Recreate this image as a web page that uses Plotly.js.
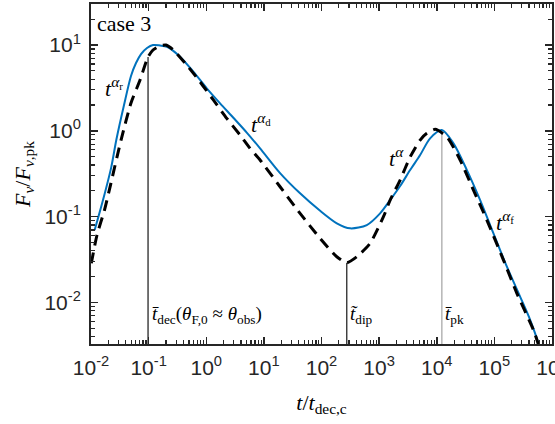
<!DOCTYPE html>
<html><head><meta charset="utf-8">
<script src="https://cdn.plot.ly/plotly-3.0.1.min.js"></script>
<style>html,body{margin:0;padding:0;background:#fff}</style>
</head><body><div id="chart" style="width:555px;height:424px"></div>
<script>
// solid blue light curve
const blueT = [0.01159, 0.01615, 0.02249, 0.02748, 0.03741, 0.04943, 0.06039, 0.07379, 0.09377, 0.1191, 0.1578, 0.2085, 0.3508, 0.5971, 1.021, 1.738, 2.953, 5.045, 8.590, 19.10, 42.47, 94.6, 184.5, 314, 611, 1040, 1552, 2317, 3451, 5152, 7674, 12270, 19500, 33340, 56620, 96380, 164800, 280500, 418800, 583600, 649400];
const blueF = [0.0698, 0.156, 0.378, 0.781, 2.00, 4.36, 6.17, 7.85, 9.23, 10.0, 9.87, 9.55, 7.31, 4.89, 3.13, 2.09, 1.42, 0.955, 0.625, 0.322, 0.187, 0.1170, 0.0836, 0.0731, 0.0798, 0.1092, 0.156, 0.2275, 0.349, 0.5224, 0.818, 1.022, 0.715, 0.349, 0.156, 0.0638, 0.0261, 0.01164, 0.00624, 0.00334, 0.00264];
// dashed black light curve
const dashT = [0.01012, 0.01271, 0.01714, 0.02138, 0.03321, 0.04943, 0.07096, 0.09770, 0.1191, 0.1578, 0.2004, 0.2685, 0.4581, 0.7795, 1.327, 2.268, 3.864, 5.754, 8.590, 19.10, 42.47, 94.6, 184.5, 274.8, 410, 698, 1189, 1552, 2317, 3451, 5152, 6730, 9380, 14960, 25480, 43360, 74130, 143900, 246000, 477500, 623700];
const dashF = [0.0286, 0.0611, 0.1194, 0.2213, 0.781, 2.11, 3.91, 7.25, 8.75, 9.81, 10.0, 8.75, 5.85, 3.73, 2.29, 1.40, 0.893, 0.625, 0.457, 0.223, 0.1092, 0.0558, 0.0341, 0.0290, 0.0341, 0.0489, 0.0998, 0.156, 0.2673, 0.4955, 0.781, 0.935, 1.041, 0.853, 0.457, 0.204, 0.0912, 0.0312, 0.01276, 0.00476, 0.00279];
// characteristic times (vertical markers) and the curve value where each marker ends
const markerNames = ['tdec', 'tdip', 'tpk'];
const markerT = [0.0977, 274.8, 12270];
const markerTop = [7.25, 0.0290, 1.022];
const markerColors = ['#000000', '#000000', '#9a9a9a'];
// axis ticks
const xTickVals = [1e-2, 1e-1, 1e0, 1e1, 1e2, 1e3, 1e4, 1e5, 1e6];
const xTickText = ['10<sup>-2</sup>', '10<sup>-1</sup>', '10<sup>0</sup>', '10<sup>1</sup>', '10<sup>2</sup>', '10<sup>3</sup>', '10<sup>4</sup>', '10<sup>5</sup>', '10<sup>6</sup>'];
const yTickVals = [1e-2, 1e-1, 1e0, 1e1];
const yTickText = ['10<sup>-2</sup>', '10<sup>-1</sup>', '10<sup>0</sup>', '10<sup>1</sup>'];

function minorVals(lo, hi) {
  const v = [];
  for (let d = lo; d <= hi; d++) for (let k = 2; k <= 9; k++) v.push(k * Math.pow(10, d));
  return v;
}

const axisColor = '#262626';
const serif = 'Liberation Serif, Times New Roman, serif';

const traces = [];
markerT.forEach((t, i) => {
  traces.push({x: [t, t], y: [0.001, markerTop[i]], mode: 'lines', name: markerNames[i],
    line: {color: markerColors[i], width: 1.1}, showlegend: false, hoverinfo: 'skip'});
});
traces.push({x: blueT, y: blueF, mode: 'lines', line: {color: '#0072BD', width: 2, shape: 'spline', smoothing: 0.8}, showlegend: false});
traces.push({x: dashT, y: dashF, mode: 'lines', line: {color: '#000000', width: 3, dash: '11px,7px', shape: 'spline', smoothing: 0.6}, showlegend: false});

function ann(text, px, py, xanchor, size) {
  return {text: text, xref: 'paper', yref: 'paper', x: (px - 91) / 461, y: (344 - py) / 340,
    xanchor: xanchor || 'left', yanchor: 'middle', showarrow: false,
    font: {family: serif, size: size || 18, color: '#000'}};
}

const layout = {
  width: 555, height: 424,
  margin: {l: 91, r: 3, t: 4, b: 80},
  paper_bgcolor: '#fff', plot_bgcolor: '#fff',
  xaxis: {
    type: 'log', range: [-2, 6], tickmode: 'array', tickvals: xTickVals, ticktext: xTickText,
    showgrid: false, zeroline: false, showline: true, linecolor: axisColor, linewidth: 2, mirror: 'ticks',
    ticks: 'inside', ticklen: 7, tickwidth: 1.5, tickcolor: axisColor,
    minor: {tickmode: 'array', tickvals: minorVals(-2, 5), ticks: 'inside', ticklen: 4, tickwidth: 1.2, tickcolor: axisColor, showgrid: false},
    tickfont: {family: 'Liberation Sans, Arial, sans-serif', size: 21, color: axisColor},
    ticklabelstandoff: 4, ticklabeloverflow: 'allow',
    title: {text: '<i>t</i>/<i>t</i><sub>dec,c</sub>', font: {family: serif, size: 22, color: '#000'}, standoff: 16}
  },
  yaxis: {
    type: 'log', range: [-2.484, 1.478], tickmode: 'array', tickvals: yTickVals, ticktext: yTickText,
    showgrid: false, zeroline: false, showline: true, linecolor: axisColor, linewidth: 2, mirror: 'ticks',
    ticks: 'inside', ticklen: 7, tickwidth: 1.5, tickcolor: axisColor,
    minor: {tickmode: 'array', tickvals: minorVals(-3, 1), ticks: 'inside', ticklen: 4, tickwidth: 1.2, tickcolor: axisColor, showgrid: false},
    tickfont: {family: 'Liberation Sans, Arial, sans-serif', size: 21, color: axisColor},
    ticklabelstandoff: 4,
    title: {text: '<i>F</i><sub><i>ν</i></sub>/<i>F</i><sub><i>ν</i>,pk</sub>', font: {family: serif, size: 22, color: '#000'}, standoff: 8}
  },
  annotations: [
    ann('case 3', 95, 23, 'left', 22),
    ann('<i>t</i><sup><i>α</i><sub>r</sub></sup>', 103, 87, 'left', 22),
    ann('<i>t</i><sup><i>α</i><sub>d</sub></sup>', 249, 123, 'left', 22),
    ann('<i>t</i><sup><i>α</i></sup>', 387, 157, 'left', 22),
    ann('<i>t</i><sup><i>α</i><sub>f</sub></sup>', 494, 221, 'left', 22),
    ann('<i>t\u0304</i><sub>dec</sub>(<i>θ</i><sub>F,0</sub> ≈ <i>θ</i><sub>obs</sub>)', 150, 315, 'left', 19),
    ann('<i>t\u0303</i><sub>dip</sub>', 348, 315, 'left', 19),
    ann('<i>t\u0304</i><sub>pk</sub>', 443, 315, 'left', 19)
  ]
};

Plotly.newPlot('chart', traces, layout, {displayModeBar: false, staticPlot: true});
</script></body></html>
